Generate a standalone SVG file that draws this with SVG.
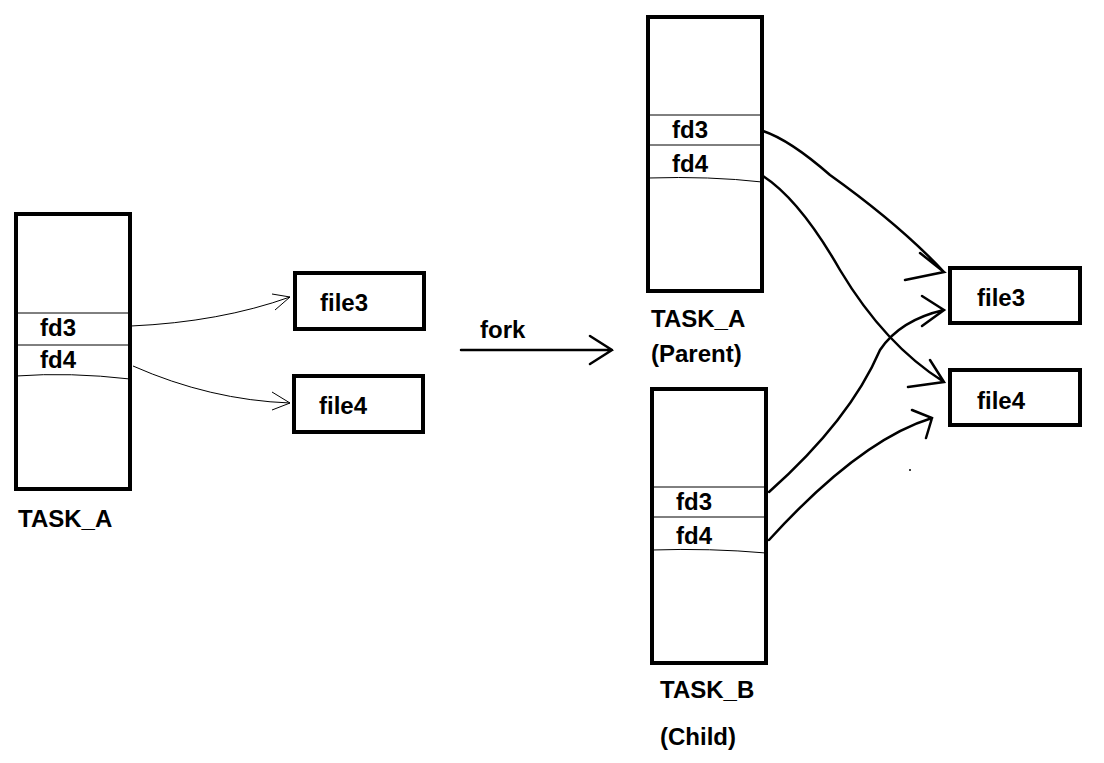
<svg xmlns="http://www.w3.org/2000/svg" width="1104" height="763" viewBox="0 0 1104 763">
<style>
.box{fill:none;stroke:#000;stroke-width:4}
.ln{fill:none;stroke:#000;stroke-width:1}
.t{font-family:"Liberation Sans",Arial,sans-serif;font-weight:bold;font-size:24px;fill:#000}
.thin{fill:none;stroke:#000;stroke-width:1}
.thick{fill:none;stroke:#000;stroke-width:2.5;stroke-linecap:round}
</style>
<rect width="1104" height="763" fill="#fff"/>
<g id="taskA_left">
<rect class="box" x="16" y="214" width="114" height="275"/>
<path class="ln" d="M16 313H130M16 345H130M16 376Q70 372 130 379"/>
<text class="t" x="40" y="336">fd3</text>
<text class="t" x="40" y="368">fd4</text>
<text class="t" x="18" y="527">TASK_A</text>
</g>
<g id="file3_left"><rect class="box" x="295" y="273" width="129" height="56"/><text class="t" x="320" y="311">file3</text></g>
<g id="file4_left"><rect class="box" x="294" y="376" width="129" height="56"/><text class="t" x="319" y="414">file4</text></g>
<g id="fork"><text class="t" x="480" y="338">fork</text></g>
<g id="taskA_parent">
<rect class="box" x="648" y="17" width="114" height="274"/>
<path class="ln" d="M648 115H762M648 145H762M648 178Q710 176 762 182"/>
<text class="t" x="672" y="138">fd3</text>
<text class="t" x="672" y="172">fd4</text>
<text class="t" x="651" y="327">TASK_A</text>
<text class="t" x="651" y="362">(Parent)</text>
</g>
<g id="taskB_child">
<rect class="box" x="652" y="389" width="114" height="274"/>
<path class="ln" d="M652 487H766M652 517H766M652 550Q710 548 766 553"/>
<text class="t" x="676" y="510">fd3</text>
<text class="t" x="676" y="544">fd4</text>
<text class="t" x="660" y="698">TASK_B</text>
<text class="t" x="660" y="745">(Child)</text>
</g>
<g id="file3_right"><rect class="box" x="950" y="268" width="130" height="55"/><text class="t" x="977" y="306">file3</text></g>
<g id="file4_right"><rect class="box" x="950" y="370" width="130" height="55"/><text class="t" x="977" y="409">file4</text></g>
<g id="connectors">
<path class="thin" d="M131 326Q220 322 290 297M272 294L290 297L275 310"/>
<path class="thin" d="M133 366Q210 400 290 403M272 392L290 403L272 410"/>
<path class="thick" d="M461 350H612M590 336L612 350L590 364"/>
<path class="thick" d="M763 131Q790 140 830 175Q900 225 944 272M920 253L944 272L905 280"/>
<path class="thick" d="M763 176Q800 200 840 270Q885 345 944 382M930 360L944 382L908 387"/>
<path class="thick" d="M769 492Q850 420 880 350Q900 320 944 310M922 296L944 310L922 326"/>
<path class="thick" d="M769 540Q860 440 932 418M912 410L932 418L926 438"/>
<circle cx="910" cy="470" r="1" fill="#000"/>
</g>
</svg>
